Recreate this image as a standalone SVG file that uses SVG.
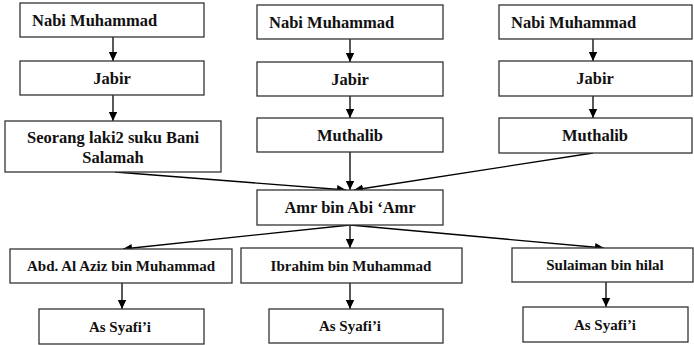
<svg xmlns="http://www.w3.org/2000/svg" width="694" height="345" viewBox="0 0 694 345">
<defs>
<marker id="ah" markerWidth="10" markerHeight="10" refX="9" refY="5" orient="auto" markerUnits="userSpaceOnUse">
<path d="M0,0.8 L9,5 L0,9.2 Z" fill="#000"/>
</marker>
<style>
.box{fill:#fff;stroke:#333;stroke-width:1.3}
.t{font-family:"Liberation Serif","Times New Roman",serif;font-weight:bold;font-size:16.5px;fill:#111}
.s{font-size:15px}
.m{text-anchor:middle}
.c{fill:none;stroke:#000;stroke-width:1.3;marker-end:url(#ah)}
</style>
</defs>
<rect width="694" height="345" fill="#fff"/>
<g id="connectors">
<line class="c" x1="113" y1="37" x2="113" y2="61"/>
<line class="c" x1="113" y1="95" x2="113" y2="121"/>
<line class="c" x1="350" y1="39" x2="350" y2="62"/>
<line class="c" x1="350" y1="96" x2="350" y2="118"/>
<line class="c" x1="593" y1="39" x2="593" y2="61"/>
<line class="c" x1="593" y1="96" x2="593" y2="118"/>
<line class="c" x1="115" y1="172" x2="346" y2="190"/>
<line class="c" x1="350" y1="152" x2="350" y2="190"/>
<line class="c" x1="593" y1="153" x2="354" y2="190"/>
<line class="c" x1="350" y1="225" x2="123" y2="249"/>
<line class="c" x1="350" y1="225" x2="350" y2="248"/>
<line class="c" x1="350" y1="225" x2="604" y2="248"/>
<line class="c" x1="122" y1="283" x2="122" y2="309"/>
<line class="c" x1="350" y1="283" x2="350" y2="309"/>
<line class="c" x1="606" y1="282" x2="606" y2="307"/>
</g>
<g id="n1"><rect class="box" x="20" y="3" width="184" height="34"/><text class="t" x="32" y="25.5">Nabi Muhammad</text></g>
<g id="n2"><rect class="box" x="20" y="61" width="184" height="34"/><text class="t m" x="112" y="83.5">Jabir</text></g>
<g id="n3"><rect class="box" x="5" y="121" width="216" height="51"/><text class="t m" x="113" y="142.5">Seorang laki2 suku Bani</text><text class="t m" x="113" y="163">Salamah</text></g>
<g id="n4"><rect class="box" x="257" y="5" width="186" height="34"/><text class="t" x="269" y="27.5">Nabi Muhammad</text></g>
<g id="n5"><rect class="box" x="257" y="62" width="186" height="34"/><text class="t m" x="350" y="84.5">Jabir</text></g>
<g id="n6"><rect class="box" x="257" y="118" width="186" height="34"/><text class="t m" x="350" y="140.5">Muthalib</text></g>
<g id="n7"><rect class="box" x="499" y="5" width="193" height="34"/><text class="t" x="511" y="27.5">Nabi Muhammad</text></g>
<g id="n8"><rect class="box" x="499" y="61" width="193" height="35"/><text class="t m" x="595" y="84">Jabir</text></g>
<g id="n9"><rect class="box" x="499" y="118" width="193" height="35"/><text class="t m" x="595" y="141">Muthalib</text></g>
<g id="n10"><rect class="box" x="257" y="190" width="186" height="35"/><text class="t m" x="350" y="213">Amr bin Abi ‘Amr</text></g>
<g id="n11"><rect class="box" x="10" y="249" width="222" height="34"/><text class="t s m" x="121" y="271">Abd. Al Aziz bin Muhammad</text></g>
<g id="n12"><rect class="box" x="241" y="248" width="221" height="35"/><text class="t s m" x="351" y="270.5">Ibrahim bin Muhammad</text></g>
<g id="n13"><rect class="box" x="512" y="248" width="181" height="34"/><text class="t s m" x="605" y="270">Sulaiman bin hilal</text></g>
<g id="n14"><rect class="box" x="39" y="309" width="165" height="35"/><text class="t s m" x="120" y="331.5">As Syafi’i</text></g>
<g id="n15"><rect class="box" x="269" y="309" width="174" height="34"/><text class="t s m" x="350" y="331">As Syafi’i</text></g>
<g id="n16"><rect class="box" x="523" y="307" width="165" height="35"/><text class="t s m" x="605" y="329.5">As Syafi’i</text></g>
</svg>
